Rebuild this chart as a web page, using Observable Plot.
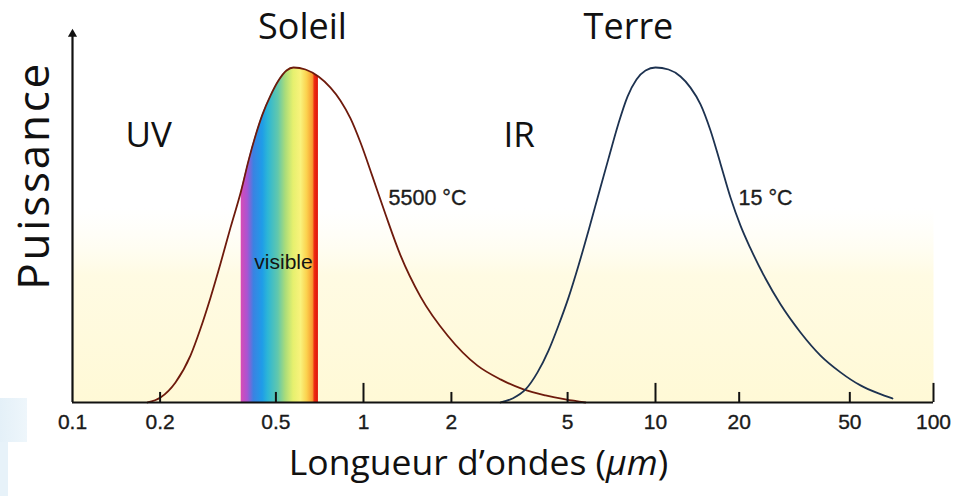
<!DOCTYPE html>
<html>
<head>
<meta charset="utf-8">
<script src="https://cdn.jsdelivr.net/npm/d3@7"></script>
<script src="https://cdn.jsdelivr.net/npm/@observablehq/plot@0.6"></script>
<style>
  body { margin: 0; background: #fff; }
  #chart { position: relative; width: 957px; height: 496px; overflow: hidden; }
  #chart svg { position: absolute; left: 0; top: 0; }
  .patch { position: absolute; left: 0; }
  #xtitle {
    position: absolute; left: 0; top: 444px; width: 957px; text-align: center;
    font-family: "Open Sans", sans-serif; font-size: 35.5px; line-height: 34px; color: #111;
  }
</style>
</head>
<body>
<div id="chart">
  <div class="patch" style="top:398px;width:27px;height:44px;background:linear-gradient(90deg,#e4f0f8,#eef6fb);"></div>
  <div class="patch" style="top:442px;width:8px;height:54px;background:#e7f2f9;"></div>
  <div id="xtitle">Longueur d’ondes (<i>µm</i>)</div>
</div>
<script>
// Relative emitted power of the Sun (5500 °C) against wavelength in µm
const sunWavelength = [0.181, 0.2006, 0.2259, 0.2543, 0.2754, 0.298, 0.3226, 0.3491, 0.38, 0.4026, 0.4256, 0.4497,
                       0.4791, 0.5104, 0.5438, 0.5747, 0.6321, 0.70, 0.7701, 0.8337, 0.9021, 0.9765, 1.073, 1.19,
                       1.339, 1.567, 1.94, 2.457, 2.945, 3.532, 4.201, 4.918, 5.758];
const sunPower      = [0, 0.015, 0.060, 0.140, 0.221, 0.313, 0.415, 0.522, 0.633, 0.722, 0.797, 0.860,
                       0.916, 0.961, 0.991, 1, 0.994, 0.973, 0.940, 0.901, 0.848, 0.776, 0.675, 0.561,
                       0.439, 0.316, 0.200, 0.110, 0.069, 0.039, 0.021, 0.009, 0];

// Relative emitted power of the Earth (15 °C)
const earthWavelength = [2.945, 3.238, 3.588, 3.944, 4.301, 4.654, 5.036, 5.449, 5.896, 6.38, 6.902, 7.468, 8.02,
                         8.608, 9.243, 10, 11.14, 12.3, 13.36, 14.52, 15.77, 17.13, 18.61, 20.22, 21.96, 24.87,
                         28.16, 33.24, 39.23, 46.3, 54.63, 63.41, 71.2];
const earthPower      = [0, 0.012, 0.039, 0.090, 0.155, 0.230, 0.313, 0.409, 0.513, 0.621, 0.728, 0.833, 0.913,
                         0.964, 0.991, 1, 0.994, 0.973, 0.940, 0.890, 0.812, 0.713, 0.612, 0.528, 0.460, 0.370,
                         0.293, 0.209, 0.140, 0.090, 0.051, 0.027, 0.012];

// Colours of the visible band, violet to red
const bandWavelength = [0.38, 0.40, 0.42, 0.45, 0.47, 0.51, 0.54, 0.575, 0.61, 0.64, 0.67, 0.68, 0.70];
const bandColor = ["#d84cb6", "#a954d2", "#3b82e2", "#1f9ce8", "#2cb6d6", "#62c8ac", "#aadc7a",
                   "#e6f06e", "#f9f27c", "#fbd24e", "#f89a30", "#ee2c12", "#de1208"];

// Wavelength axis
const tickValues = [0.1, 0.2, 0.5, 1, 2, 5, 10, 20, 50, 100];
const tickLabels = ["0.1", "0.2", "0.5", "1", "2", "5", "10", "20", "50", "100"];
const majorTicks = [1, 10, 100];
const minorTicks = [0.2, 0.5, 2, 5, 20, 50];

// Annotations: text, wavelength
const titleText = ["Soleil", "Terre"];
const titleWavelength = [0.617, 8.08];
const regionText = ["UV", "IR"];
const regionWavelength = [0.1521, 3.016];
const tempText = ["5500 °C", "15 °C"];
const tempWavelength = [1.218, 19.89];
const visibleText = "visible";
const visibleWavelength = 0.531;

const sun = sunWavelength.map((w, i) => ({w, p: sunPower[i]}));
const earth = earthWavelength.map((w, i) => ({w, p: earthPower[i]}));
const lo = bandWavelength[0], hi = bandWavelength[bandWavelength.length - 1];
const visible = sun.filter(d => d.w >= lo && d.w <= hi);

const titleFont = "'Open Sans', sans-serif";
const smallFont = "'Liberation Sans', Arial, sans-serif";

const plot = Plot.plot({
  width: 957,
  height: 496,
  marginLeft: 72,
  marginRight: 24,
  marginTop: 67,
  marginBottom: 94,
  // piecewise log scale, one piece per decade
  x: {type: "log", domain: [0.1, 1, 10, 100], range: [72, 363, 655, 933], axis: null},
  y: {domain: [0, 1], axis: null},
  style: {background: "transparent", overflow: "visible"},
  marks: [
    Plot.frame({fill: "url(#cream)", stroke: null}),
    Plot.areaY(visible, {x: "w", y: "p", fill: "url(#rainbow)", curve: "monotone-x"}),
    Plot.line(sun, {x: "w", y: "p", stroke: "#6e1a0c", strokeWidth: 1.8, curve: "monotone-x"}),
    Plot.line(earth, {x: "w", y: "p", stroke: "#1d3250", strokeWidth: 1.8, curve: "monotone-x"}),
    Plot.ruleX(majorTicks, {y1: 0, y2: 0.057, stroke: "#111", strokeWidth: 2}),
    Plot.ruleX(minorTicks, {y1: 0, y2: 0.03, stroke: "#111", strokeWidth: 2}),
    Plot.ruleY([0], {x1: 0.1, x2: 100, stroke: "#111", strokeWidth: 2.2}),
    Plot.ruleX([0.1], {y1: 0, y2: 1.1, stroke: "#111", strokeWidth: 2.2}),
    Plot.dot([0.1], {x: d => d, y: 1.1, symbol: "triangle", r: 3.4, fill: "#111", stroke: null}),
    Plot.text(tickValues, {x: d => d, y: 0, text: (d, i) => tickLabels[i], dy: 20, lineAnchor: "middle",
      fontSize: 21, fontFamily: smallFont, fill: "#1a1a1a", stroke: "#1a1a1a", strokeWidth: 0.35}),
    Plot.text(titleText, {x: (d, i) => titleWavelength[i], y: 1.084, text: d => d, lineAnchor: "bottom",
      fontSize: 36, fontFamily: titleFont, fill: "#111"}),
    Plot.text(regionText, {x: (d, i) => regionWavelength[i], y: 0.764, text: d => d, lineAnchor: "bottom",
      textAnchor: "start", fontSize: 35, fontFamily: titleFont, fill: "#111"}),
    Plot.text(tempText, {x: (d, i) => tempWavelength[i], y: 0.609, text: d => d, lineAnchor: "middle",
      textAnchor: "start", fontSize: 21.5, fontFamily: smallFont, fill: "#1c1c1c", stroke: "#1c1c1c", strokeWidth: 0.35}),
    Plot.text([visibleText], {x: visibleWavelength, y: 0.418, text: d => d, lineAnchor: "middle",
      fontSize: 21, fontFamily: smallFont, fill: "#141414"}),
    Plot.text(["Puissance"], {x: 0.1, y: 0.678, text: d => d, rotate: -90, dx: -24, lineAnchor: "bottom",
      fontSize: 44, fontFamily: titleFont, fill: "#111"})
  ]
});

// Wider tracking on the vertical axis title
d3.select(plot).selectAll("text").filter(function() { return this.textContent === "Puissance"; })
  .style("letter-spacing", "2.8px");

// Gradients used by the frame (cream tint) and the visible band (spectrum)
const l0 = Math.log10(lo), l1 = Math.log10(hi);
const defs = d3.select(plot).insert("defs", ":first-child");
const rainbow = defs.append("linearGradient").attr("id", "rainbow")
  .attr("x1", 0).attr("x2", 1).attr("y1", 0).attr("y2", 0);
bandWavelength.forEach((w, i) => {
  rainbow.append("stop").attr("offset", (Math.log10(w) - l0) / (l1 - l0)).attr("stop-color", bandColor[i]);
});
const cream = defs.append("linearGradient").attr("id", "cream")
  .attr("x1", 0).attr("x2", 0).attr("y1", 0).attr("y2", 1);
[[0, "#ffffff", 0], [0.42, "#fffdf0", 0], [0.62, "#fffbe3", 1], [1, "#fff9d6", 1]].forEach(([o, c, a]) => {
  cream.append("stop").attr("offset", o).attr("stop-color", c).attr("stop-opacity", a);
});

document.getElementById("chart").prepend(plot);
</script>
</body>
</html>
